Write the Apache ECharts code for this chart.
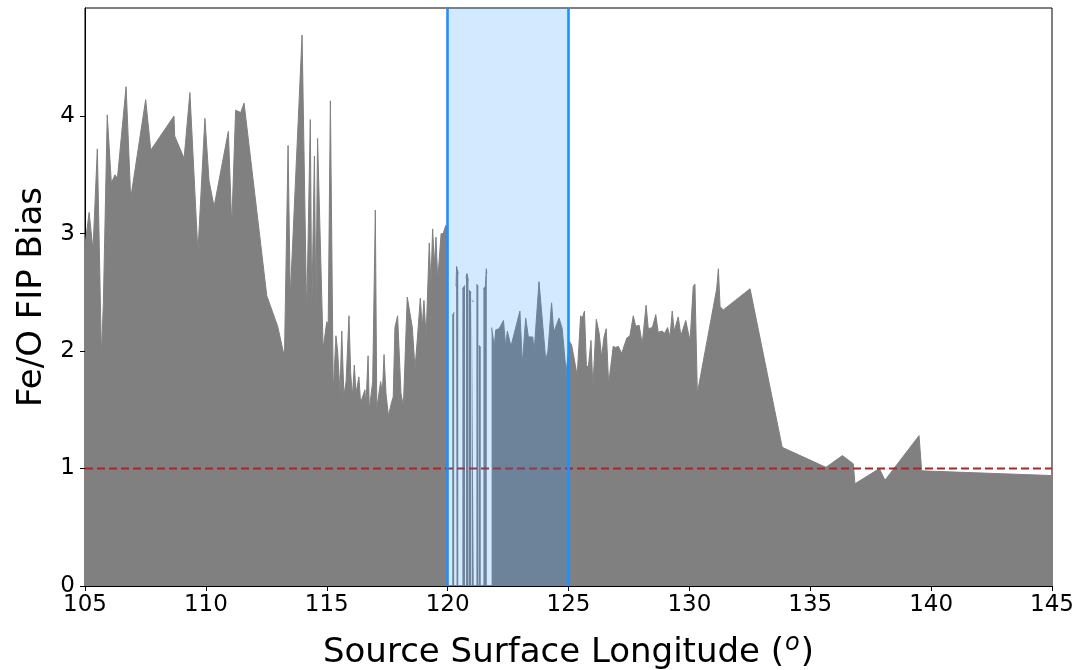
<!DOCTYPE html>
<html>
<head>
<meta charset="utf-8">
<script src="https://cdn.jsdelivr.net/npm/echarts@6/dist/echarts.min.js"></script>
<style>html,body{margin:0;padding:0;background:#fff}#c{width:1083px;height:670px}</style>
</head>
<body>
<div id="c"></div>
<script>
// Source surface longitude (deg) and Fe/O FIP bias; null = gap in data
const longitude = [
105.00,105.17,105.33,105.51,105.68,105.76,105.92,106.09,106.24,106.34,106.70,106.89,107.51,107.72,108.68,108.71,109.10,109.34,109.67,109.96,
110.13,110.34,110.93,111.07,111.23,111.44,111.58,112.52,112.97,113.25,113.40,113.49,113.98,114.17,114.32,114.38,114.49,114.55,114.62,114.85,
115.00,115.06,115.15,115.27,115.38,115.45,115.55,115.62,115.71,115.80,115.92,115.99,116.06,116.14,116.21,116.33,116.40,116.58,116.62,116.71,
116.76,116.90,117.01,117.07,117.23,117.30,117.37,117.45,117.55,117.69,117.75,117.82,117.93,118.07,118.17,118.33,118.54,118.65,118.75,118.87,
118.95,119.02,119.11,119.24,119.31,119.38,119.45,119.52,119.59,119.73,119.82,119.92,120.02,120.05,
120.19,120.27,120.29,120.35,120.37,120.44,120.46,120.61,120.72,120.74,120.76,120.80,120.86,120.87,120.88,120.97,120.99,121.00,121.08,121.12,
121.19,121.27,121.28,121.29,121.37,121.40,121.48,121.56,121.60,121.62,121.64,
121.82,121.93,121.99,122.13,122.31,122.40,122.47,122.62,122.99,123.09,123.23,123.34,123.52,123.58,123.78,124.06,124.15,124.30,124.39,124.61,
124.74,124.90,125.05,125.13,125.23,125.36,125.50,125.57,125.66,125.74,125.82,125.93,126.01,126.15,126.27,126.37,126.47,126.56,126.66,126.85,
126.95,127.06,127.20,127.41,127.54,127.68,127.78,127.92,128.05,128.21,128.30,128.47,128.61,128.71,128.88,128.97,129.10,129.20,129.29,129.37,
129.54,129.65,129.85,129.93,130.03,130.16,130.23,130.33,131.13,131.20,131.27,131.40,132.51,133.84,135.65,136.33,136.78,136.85,137.86,138.09,
139.50,139.61,145.00
];
const fipBias = [
2.90,3.18,2.86,3.72,1.96,2.41,4.01,3.43,3.50,3.47,4.25,3.30,4.14,3.71,4.00,3.83,3.64,4.20,2.84,3.98,
3.45,3.23,3.87,3.07,4.05,4.03,4.11,2.47,2.21,1.95,3.75,2.46,4.69,2.30,3.97,2.32,3.66,2.32,3.81,2.02,
2.25,2.22,4.13,1.64,2.13,2.00,1.64,2.17,1.62,1.74,2.30,1.81,1.61,1.88,1.64,1.78,1.56,1.67,1.53,1.96,
1.50,1.74,3.20,1.51,1.74,1.64,1.97,1.64,1.45,1.57,1.61,2.20,2.30,1.64,1.53,2.46,2.20,1.85,2.11,2.45,
2.20,2.43,2.12,2.92,2.57,3.04,2.74,2.97,2.60,3.00,3.00,3.07,3.05,null,
2.30,2.33,null,2.55,2.72,2.66,null,2.53,2.56,null,2.62,2.66,2.60,null,2.52,2.50,null,2.43,2.42,null,
2.57,2.55,null,2.05,2.03,null,2.53,2.55,2.70,2.66,null,
2.20,2.04,2.18,2.19,2.26,2.04,2.17,2.04,2.34,1.89,2.28,2.12,2.12,2.00,2.59,1.92,2.00,2.41,2.16,2.28,
2.19,1.82,2.08,2.05,1.94,1.79,2.30,2.28,2.34,1.88,1.86,2.09,1.69,2.27,2.15,1.95,2.12,2.19,1.72,2.04,
2.03,2.04,1.98,2.11,2.13,2.30,2.21,2.22,2.06,2.39,2.19,2.20,2.31,2.16,2.17,2.15,2.20,2.12,2.34,2.17,
2.29,2.13,2.26,2.18,2.09,2.55,2.57,1.64,2.53,2.70,2.38,2.35,2.53,1.18,1.01,1.11,1.04,0.87,1.00,0.90,
1.28,0.98,0.94
];
const xTicks = [105,110,115,120,125,130,135,140,145];
const yTicks = [0,1,2,3,4];
const highlightRange = [120,125];
const referenceBias = 1;
const xRange = [105,145];
const yMax = 4.92;

const mainData = longitude.map((x,i)=>[x, fipBias[i]]);
const chart = echarts.init(document.getElementById('c'), null, {renderer:'canvas'});
const font = 'DejaVu Sans';
chart.setOption({
  animation:false,
  backgroundColor:'#fff',
  grid:{left:85,right:31,top:8,bottom:84,show:true,borderColor:'#000',borderWidth:1,backgroundColor:'transparent',
        containLabel:false,outerBoundsMode:'none'},
  xAxis:{
    type:'value',min:xRange[0],max:xRange[1],interval:5,
    name:'Source Surface Longitude ({sup|o})',nameLocation:'middle',nameGap:46,
    nameTextStyle:{fontFamily:font,fontSize:34,color:'#000',
      rich:{sup:{fontFamily:font,fontSize:24,fontStyle:'italic',color:'#000',verticalAlign:'top',padding:[0,1,18,1]}}},
    axisLine:{show:true,lineStyle:{color:'#000',width:1}},
    axisTick:{show:true,length:5,inside:false,lineStyle:{color:'#000'}},
    axisLabel:{fontFamily:font,fontSize:23,color:'#000',margin:8,
      formatter:v=>xTicks.includes(v)?String(v):''},
    splitLine:{show:false}
  },
  yAxis:{
    type:'value',min:0,max:yMax,interval:1,
    name:'Fe/O FIP Bias',nameLocation:'middle',nameGap:36,
    nameTextStyle:{fontFamily:font,fontSize:34,color:'#000'},
    axisLine:{show:true,lineStyle:{color:'#000',width:1}},
    axisTick:{show:true,length:5,lineStyle:{color:'#000'}},
    axisLabel:{fontFamily:font,fontSize:23,color:'#000',margin:10,showMaxLabel:false,
      formatter:v=>yTicks.includes(v)?String(v):''},
    splitLine:{show:false}
  },
  series:[
    {
      type:'line',data:mainData,symbol:'none',connectNulls:false,z:2,
      lineStyle:{color:'#808080',width:1},
      areaStyle:{color:'#808080',opacity:1},
      silent:true
    },
    {
      type:'line',data:[[xRange[0],referenceBias],[xRange[1],referenceBias]],symbol:'none',z:3,
      lineStyle:{color:'#b22222',width:1.8,type:[8,4]},silent:true
    },
    {
      type:'line',data:[[highlightRange[0],yMax],[highlightRange[1],yMax]],symbol:'none',z:4,
      lineStyle:{width:0,opacity:0},
      areaStyle:{color:'rgba(30,144,255,0.2)',opacity:1},
      silent:true,
      markLine:{
        silent:true,symbol:'none',z:6,label:{show:false},
        lineStyle:{color:'#1e90ff',width:2.6,type:'solid'},
        data:highlightRange.map(x=>({xAxis:x}))
      }
    }
  ]
});
</script>
</body>
</html>
